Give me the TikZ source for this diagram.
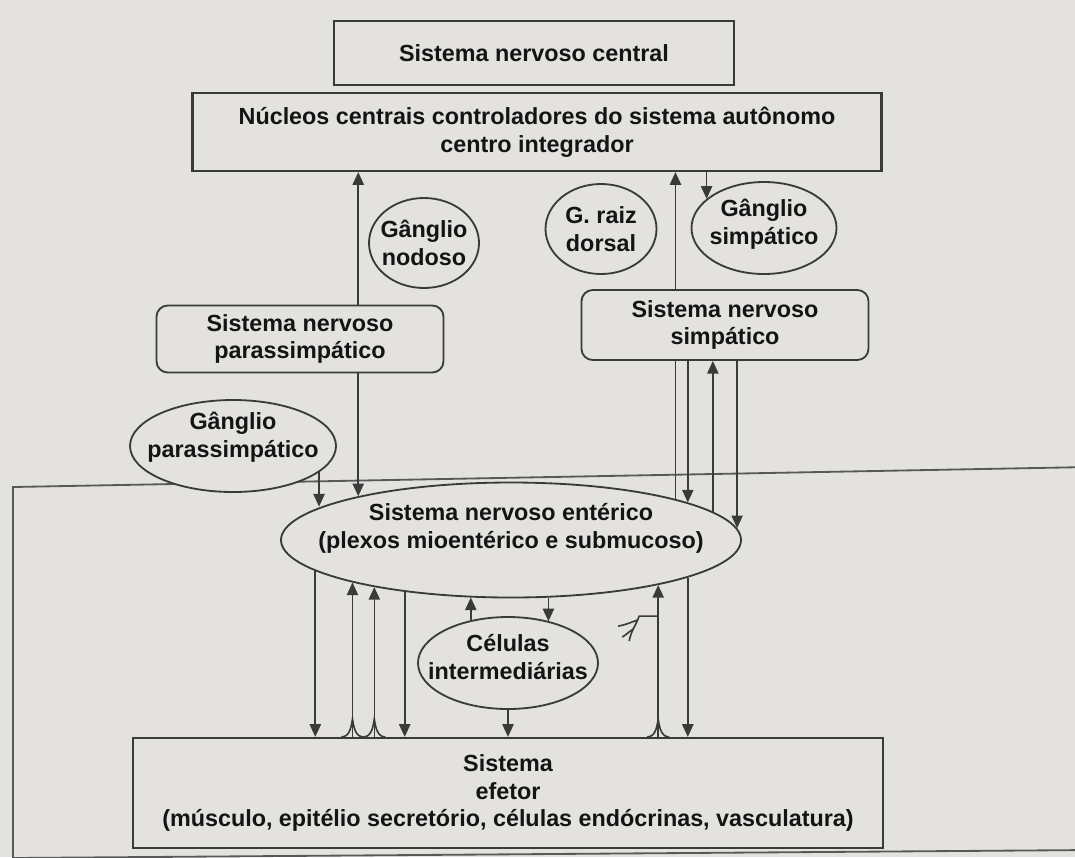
\documentclass[tikz,border=0pt]{standalone}
\usepackage{fontspec}
\setmainfont{Liberation Sans}
\usetikzlibrary{arrows.meta, shapes.geometric}
\definecolor{PageGray}{HTML}{E4E2DF}
\definecolor{InkLine}{HTML}{3A3A3A}
\definecolor{InkText}{HTML}{141414}
\newcommand{\txtfont}{\fontsize{16.6}{19.8}\selectfont\bfseries}
\def\px{0.025cm}

\tikzset{
  box/.style={draw=InkLine, line width=1.6pt, fill=PageGray, inner sep=0pt, align=center, font=\txtfont, text=InkText},
  rbox/.style={box, line width=1.3pt, rounded corners=8pt},
  gang/.style={ellipse, draw=InkLine, line width=1.3pt, fill=PageGray, inner sep=0pt},
  lbl/.style={align=center, font=\txtfont, text=InkText, inner sep=0pt},
  fiber/.style={draw=InkLine, line width=1.15pt},
  arr/.style={fiber, -{Triangle[length=9pt, width=8pt]}},
  frame/.style={draw=InkLine!85, line width=1.3pt},
  synend/.pic={\draw[fiber] (-11,0) .. controls (-4,0) and (-1.5,-7) .. (0,-18) .. controls (1.5,-7) and (4,0) .. (11,0);},
  dendrite/.pic={
    \draw[fiber] (0,0) -- (-19,0) to[out=250, in=80] (-29,25);
    \draw[fiber] (-21,4) to[out=200, in=10] (-40,10);
    \draw[fiber] (-25,13) to[out=210, in=30] (-36,21);
  }
}

\begin{document}
\begin{tikzpicture}[x=0.025cm, y=-0.025cm]
    % page and bounding box
    \clip (0,0) rectangle (1075,857);
    \fill[PageGray] (0,0) rectangle (1075,857);

    % === FRAME (gut wall) ===
    \draw[frame] (13,870) -- (13,487) -- (1090,467);
    \draw[frame] (13,858) -- (1090,850);

    % === CENTRAL LEVEL ===
    \node[box, minimum width=400*\px, minimum height=64*\px] (SNC) at (534,53) {Sistema nervoso central};
    \node[box, minimum width=689*\px, minimum height=78*\px] (Nuc) at (537,132) {Núcleos centrais controladores do sistema autônomo\\centro integrador};

    % === GANGLIA ===
    \node[gang, minimum width=110*\px, minimum height=90*\px] (Nod) at (424,243) {};
    \node[gang, minimum width=111*\px, minimum height=90*\px] (Raiz) at (601,229) {};
    \node[gang, minimum width=145*\px, minimum height=92*\px] (Simp) at (764,228) {};
    \node[gang, minimum width=206*\px, minimum height=92*\px] (Gpara) at (233,446) {};
    \node[lbl] (NodT) at (Nod) {Gânglio\\nodoso};
    \node[lbl] (RaizT) at (Raiz) {G. raiz\\dorsal};
    \node[lbl] (SimpT) at ([yshift=3pt]Simp.center) {Gânglio\\simpático};
    \node[lbl] (GparaT) at ([yshift=6pt]Gpara.center) {Gânglio\\parassimpático};

    % === AUTONOMIC DIVISIONS ===
    \node[rbox, minimum width=287*\px, minimum height=67*\px] (Para) at (300,339) {Sistema nervoso\\parassimpático};
    \node[rbox, minimum width=287*\px, minimum height=70*\px] (SNS) at (725,325) {Sistema nervoso\\simpático};

    % === ENTERIC LEVEL ===
    \node[gang, minimum width=460*\px, minimum height=115*\px] (ENS) at (511,540) {};
    \node[lbl] (ENST) at ([yshift=8pt]ENS.center) {Sistema nervoso entérico\\(plexos mioentérico e submucoso)};
    \node[gang, minimum width=180*\px, minimum height=92*\px] (Cel) at (508,663) {};
    \node[lbl] (CelT) at ([yshift=4pt]Cel.center) {Células\\intermediárias};
    \node[box, minimum width=750*\px, minimum height=110*\px] (Eff) at (508,793) {Sistema\\efetor\\(músculo, epitélio secretório, células endócrinas, vasculatura)};

    % === PARASYMPATHETIC PATH ===
    \draw[arr] (Para.north -| ENS.164.5) -- (Nuc.south -| ENS.164.5);
    \draw[arr] (Para.south -| ENS.164.5) -- (ENS.164.5);
    \draw[arr] (Gpara.343.6) -- (Gpara.343.6 |- ENS.170.6);

    % === SYMPATHETIC PATH ===
    \draw[arr] (SNS.north -| ENS.14.5) -- (Nuc.south -| ENS.14.5);
    \draw[fiber] (ENS.14.5) -- (ENS.14.5 |- SNS.south);
    \draw[arr] (Nuc.south -| Simp.153.5) -- (Simp.153.5);
    \draw[arr] (SNS.south -| ENS.12.2) -- (ENS.12.2);
    \draw[arr] (ENS.8.4) -- (ENS.8.4 |- SNS.south);
    \draw[arr] (SNS.south -| ENS.3.9) -- (ENS.3.9);

    % === ENS <-> EFFECTOR ===
    \foreach \a in {189.4,206.8,348.9}
        \draw[arr] (ENS.\a) -- (ENS.\a |- Eff.north);
    \foreach \a in {195.5,199.8,343.1} {
        \draw[arr] (Eff.north -| ENS.\a) -- (ENS.\a);
        \pic at (Eff.north -| ENS.\a) {synend};
    }
    \pic at (ENS.343.1 |- Cel.north) {dendrite};

    % === INTERMEDIATE CELLS ===
    \draw[arr] (Cel.131.4) -- (Cel.131.4 |- ENS.234.8);
    \draw[arr] (ENS.303.8) -- (ENS.303.8 |- Cel.45);
    \draw[arr] (Cel.south) -- (Cel.south |- Eff.north);
\end{tikzpicture}
\end{document}
